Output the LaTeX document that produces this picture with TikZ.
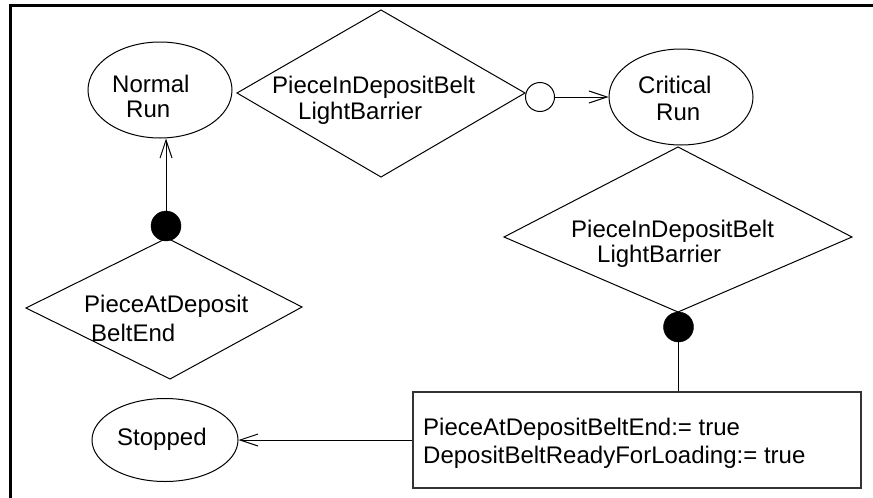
\documentclass[tikz,border=0pt]{standalone}
\usepackage{fontspec}
\setmainfont{Liberation Sans}
\usetikzlibrary{shapes.geometric,arrows.meta}
\tikzset{
  lbl/.style={anchor=base west, inner sep=0pt, font=\fontsize{24}{28}\selectfont},
  statenode/.style={draw, ellipse, line width=1pt, inner sep=0pt},
  cond/.style={draw, line width=1pt, line join=miter},
  opendot/.style={draw, circle, line width=1pt, minimum size=29pt, inner sep=0pt},
  fulldot/.style={draw, fill=black, circle, minimum size=30pt, inner sep=0pt},
  actbox/.style={draw, line width=1.3pt, draw=black!80, rectangle, inner sep=0pt},
  trans/.style={line width=1pt, -{Straight Barb[length=18pt,width=12pt,line width=1pt]}},
  plain/.style={line width=1pt},
}
\begin{document}
\begin{tikzpicture}[x=1pt,y=-1pt]
\useasboundingbox (0,0) rectangle (873,498);

% frame
\draw[line width=2.8pt] (10.5,498) -- (10.5,5.3) -- (873,5.3);

% states
\node[statenode, minimum width=144pt, minimum height=96pt] (nr) at (160,90) {};
\node[statenode, minimum width=144pt, minimum height=96pt] (cr) at (681,97) {};
\node[statenode, minimum width=146pt, minimum height=83pt] (st) at (165,440) {};
\node[lbl] (nrA) at (112,92) {Normal};
\node[lbl] (nrB) at (126,117) {Run};
\node[lbl] (crA) at (638,93) {Critical};
\node[lbl] (crB) at (656,120) {Run};
\node[lbl] (stA) at (117,445) {Stopped};

% conditions (diamonds)
\coordinate (taW) at (237,93);
\coordinate (taN) at (381,10);
\coordinate (taE) at (525,93);
\coordinate (taS) at (381,177);
\draw[cond] (taW) -- (taN) -- (taE) -- (taS) -- cycle;
\node[lbl] (taA) at (272,93) {PieceInDepositBelt};
\node[lbl] (taB) at (298,119) {LightBarrier};

\coordinate (rbW) at (504,237);
\coordinate (rbN) at (678,147);
\coordinate (rbE) at (852,237);
\coordinate (rbS) at (678,312);
\draw[cond] (rbW) -- (rbN) -- (rbE) -- (rbS) -- cycle;
\node[lbl] (rbA) at (571,237) {PieceInDepositBelt};
\node[lbl] (rbB) at (597,262) {LightBarrier};

\coordinate (lbW) at (26,308);
\coordinate (lbN) at (167,238);
\coordinate (lbE) at (302,307);
\coordinate (lbS) at (170,379);
\draw[cond] (lbW) -- (lbN) -- (lbE) -- (lbS) -- cycle;
\node[lbl] (lbA) at (84,312) {PieceAtDeposit};
\node[lbl] (lbB) at (91,341) {BeltEnd};

% connectors
\node[opendot] (od) at (540,97) {};
\node[fulldot] (fdL) at (166,226) {};
\node[fulldot] (fdR) at (678.5,327) {};

\node[actbox, minimum width=448pt, minimum height=96pt] (act) at (637,440) {};
\node[lbl] (actA) at (423,435) {PieceAtDepositBeltEnd:= true};
\node[lbl] (actB) at (423,463) {DepositBeltReadyForLoading:= true};

\draw[trans] (od.east) -- (od.east -| cr.west);
\draw[trans] (fdL.north) -- (fdL.north |- nr.south);
\draw[plain] (fdR.south) -- (fdR.south |- act.north);
\draw[trans] (act.west) -- (st.east);
\end{tikzpicture}
\end{document}
